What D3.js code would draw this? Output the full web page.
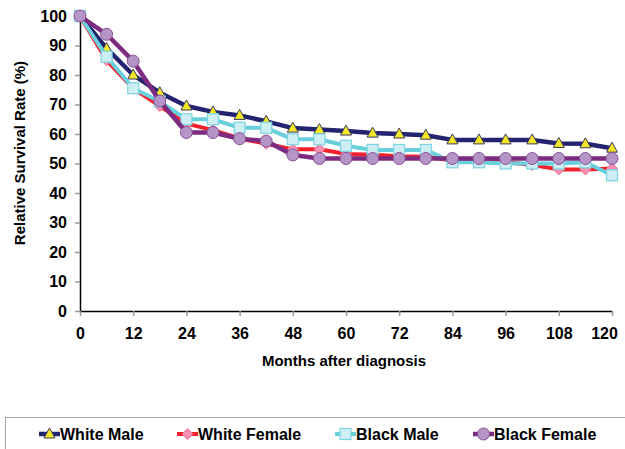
<!DOCTYPE html>
<html>
<head>
<meta charset="utf-8">
<script src="https://cdn.jsdelivr.net/npm/d3@7"></script>
<style>
  body { margin: 0; background: #fff; }
  svg { display: block; font-family: Arial, "Liberation Sans", sans-serif; font-weight: bold; }
</style>
</head>
<body>
<svg id="chart" width="625" height="449"></svg>
<script>
// data
const months = [0, 6, 12, 18, 24, 30, 36, 42, 48, 54, 60, 66, 72, 78, 84, 90, 96, 102, 108, 114, 120];
const whiteMale = [100, 89, 80, 74, 69.5, 67.5, 66.3, 64.3, 62, 61.5, 61, 60.3, 60, 59.6, 58, 58, 58, 58, 56.8, 56.7, 55.2];
const whiteFemale = [100, 85, 75.5, 69.5, 63.5, 61.3, 58.5, 56.7, 54.8, 54.8, 53.2, 53, 52.5, 52.3, 51, 50.5, 50.5, 49.5, 48, 48, 48.3];
const blackMale = [100, 86.2, 75.5, 71, 65, 65, 62.1, 62.1, 58.2, 58.2, 56, 54.6, 54.6, 54.6, 50.4, 50.4, 50, 50, 50, 50.4, 46];
const blackFemale = [100, 93.8, 84.7, 71.2, 60.5, 60.5, 58.4, 57.6, 52.9, 51.7, 51.7, 51.7, 51.7, 51.7, 51.7, 51.7, 51.7, 51.7, 51.7, 51.7, 51.7];
const xTicks = [0, 12, 24, 36, 48, 60, 72, 84, 96, 108, 120];
const yTicks = [0, 10, 20, 30, 40, 50, 60, 70, 80, 90, 100];

const series = [
  { name: "White Male", values: whiteMale, line: "#23236f", width: 4.5, shape: "triangle", fill: "#f2e627", stroke: "#3a3a60" },
  { name: "White Female", values: whiteFemale, line: "#f2212b", width: 4, shape: "diamond", fill: "#f590b4", stroke: "#f06a8a" },
  { name: "Black Male", values: blackMale, line: "#6acfdc", width: 4, shape: "square", fill: "#cdeef3", stroke: "#7dd3df" },
  { name: "Black Female", values: blackFemale, line: "#7c2b80", width: 4.5, shape: "circle", fill: "#b595c8", stroke: "#8a4f96" }
];

const svg = d3.select("#chart");

const x = d3.scaleLinear().domain([0, 120]).range([80, 612]);
const y = d3.scaleLinear().domain([0, 100]).range([311, 16]);

// y axis
const yAxis = svg.append("g")
  .attr("transform", `translate(${x(0)},0)`)
  .call(d3.axisLeft(y).tickValues(yTicks).tickSize(5).tickPadding(8).tickSizeOuter(0));
yAxis.select(".domain").attr("stroke", "#000").attr("stroke-width", 1.5);
yAxis.selectAll(".tick line").attr("stroke", "#999").attr("stroke-width", 1.5);
yAxis.selectAll(".tick text")
  .attr("fill", "#000").style("font-size", "16px").style("font-weight", "bold")
  .style("font-family", "Arial, 'Liberation Sans', sans-serif");

// x axis
const xAxis = svg.append("g")
  .attr("transform", `translate(0,${y(0)})`)
  .call(d3.axisBottom(x).tickValues(xTicks).tickSize(5).tickPadding(12).tickSizeOuter(0));
xAxis.select(".domain").attr("stroke", "#000").attr("stroke-width", 1.5);
xAxis.selectAll(".tick line").attr("stroke", "#999").attr("stroke-width", 1.5);
xAxis.selectAll(".tick text")
  .attr("fill", "#000").style("font-size", "16px").style("font-weight", "bold")
  .style("font-family", "Arial, 'Liberation Sans', sans-serif")
  .attr("dx", d => d === 120 ? -8 : 0);

// axis titles
svg.append("text")
  .attr("x", 344).attr("y", 366)
  .attr("text-anchor", "middle")
  .style("font-size", "15px")
  .text("Months after diagnosis");

svg.append("text")
  .attr("transform", "translate(25,153) rotate(-90)")
  .attr("text-anchor", "middle")
  .style("font-size", "15px")
  .text("Relative Survival Rate (%)");

const line = d3.line()
  .x(d => x(d[0]))
  .y(d => y(d[1]));

function drawMarker(g, shape, cx, cy, fill, stroke) {
  if (shape === "triangle") {
    g.append("path")
      .attr("d", `M${cx},${cy - 6} L${cx + 5.5},${cy + 4} L${cx - 5.5},${cy + 4} Z`)
      .attr("fill", fill).attr("stroke", stroke).attr("stroke-width", 1);
  } else if (shape === "diamond") {
    g.append("path")
      .attr("d", `M${cx},${cy - 5.5} L${cx + 5.5},${cy} L${cx},${cy + 5.5} L${cx - 5.5},${cy} Z`)
      .attr("fill", fill).attr("stroke", stroke).attr("stroke-width", 1);
  } else if (shape === "square") {
    g.append("rect")
      .attr("x", cx - 5.5).attr("y", cy - 5.5).attr("width", 11).attr("height", 11)
      .attr("fill", fill).attr("stroke", stroke).attr("stroke-width", 1.2);
  } else {
    g.append("circle")
      .attr("cx", cx).attr("cy", cy).attr("r", 6)
      .attr("fill", fill).attr("stroke", stroke).attr("stroke-width", 1);
  }
}

// series lines + markers
series.forEach(s => {
  const pts = months.map((m, i) => [m, s.values[i]]);
  const g = svg.append("g");
  g.append("path")
    .datum(pts)
    .attr("d", line)
    .attr("fill", "none")
    .attr("stroke", s.line)
    .attr("stroke-width", s.width)
    .attr("stroke-linejoin", "round");
  pts.forEach(p => drawMarker(g, s.shape, x(p[0]), y(p[1]), s.fill, s.stroke));
});

// legend
svg.append("rect")
  .attr("x", 5.5).attr("y", 417.5)
  .attr("width", 640).attr("height", 60)
  .attr("fill", "#fff").attr("stroke", "#a6a6a6").attr("stroke-width", 1);

const legendX = [39, 177, 335, 473];
series.forEach((s, i) => {
  const g = svg.append("g");
  const lx = legendX[i];
  g.append("line")
    .attr("x1", lx).attr("x2", lx + 21)
    .attr("y1", 434).attr("y2", 434)
    .attr("stroke", s.line).attr("stroke-width", s.width);
  drawMarker(g, s.shape, lx + 10.5, 434, s.fill, s.stroke);
  g.append("text")
    .attr("x", lx + 21).attr("y", 440)
    .style("font-size", "16px")
    .text(s.name);
});
</script>
</body>
</html>
